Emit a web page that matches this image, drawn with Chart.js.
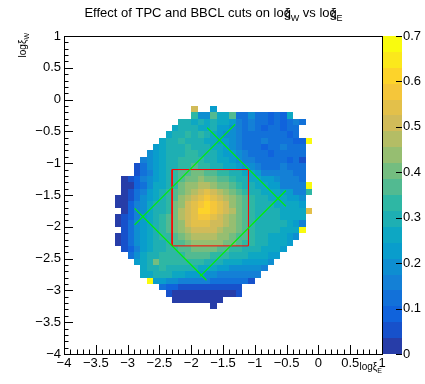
<!DOCTYPE html>
<html>
<head>
<meta charset="utf-8">
<script src="https://cdn.jsdelivr.net/npm/chart.js@4.4.0/dist/chart.umd.min.js"></script>
<style>
  html, body { margin: 0; padding: 0; background: #fff; }
  canvas { display: block; }
</style>
</head>
<body>
<canvas id="th2" width="425" height="384"></canvas>
<script>
// TH2 ratio map (logxi_E on x, logxi_W on y), bins of 0.1 x 0.1
const binSize = 0.1;
const zMin = 0;
const zMax = 0.7;
const nLevels = 20;

// one row per y bin: lower y edge, lower x edge of first filled bin,
// then one char per bin = palette level (0-9, a-j, step 0.035), '.' = empty.
// spaces are only there to make the rows readable
const rowY = [
  -0.2, -0.3, -0.4, -0.5, -0.6, -0.7, -0.8, -0.9, -1.0, -1.1, -1.2, -1.3, -1.4, -1.5, -1.6, -1.7,
  -1.8, -1.9, -2.0, -2.1, -2.2, -2.3, -2.4, -2.5, -2.6, -2.7, -2.8, -2.9, -3.0, -3.1, -3.2, -3.3
];
const rowX = [
  -2.0, -2.0, -2.2, -2.3, -2.4, -2.5, -2.6, -2.7, -2.8, -2.9, -2.9, -3.1, -3.1, -3.1, -3.2, -3.2,
  -3.1, -3.2, -3.2, -3.1, -3.2, -3.2, -3.1, -3.0, -2.9, -2.8, -2.8, -2.7, -2.5, -2.4, -2.3, -1.7
];
const rowCodes = [
  "e..6",
  "955a7 7a335 33232 7",
  "88787 87764 34332 32343",
  "78887 78665 43432 33233",
  "78898 98765 54333 33332 3",
  "78898 88776 65433 34333 322j",
  "67888 98887 76543 33233 4333",
  "56788 89988 87665 43332 33333",
  "45678 89999 88776 54433 33323 1",
  "13567 8899a 99887 76554 33343 33",
  "13467 89aab baa99 88776 44444 33",
  "01245 6789a bbcbb aa988 77665 4443",
  "00235 7789b ccddc bba98 87766 4444j",
  "01346 789ab cdefe dcba9 88777 66449",
  "00135 6789a cdefg fedcb a9887 77665",
  "00245 7889b cefgh gfecb a9888 77776",
  "02457 889bd efhhg fedba 98888 7777f",
  "01246 789ab defgg fedcb a9888 87777",
  "01356 789ab cefff eedcb a9888 88764",
  "13567 89abc deeee dccba 98888 777j",
  "01356 7899a bcddd dccba a9887 7765",
  "01356 7889a abccc ccbba 99887 776",
  "12467 8899a abbbb aa998 88777 6",
  "35788 9999a aaa99 98887 7766",
  "678b9 99999 98887 77666 65",
  "78898 88887 77665 55554",
  "77888 77666 55444 4444",
  "j6655 44444 33333 31",
  "32211 11111 111",
  "10000 00000 01",
  "00000 000",
  "0"
];

// cut lines drawn on top (data coordinates)
const cutLines = [
  [[-2.89, -1.97], [-1.31, -0.39]],
  [[-2.89, -1.71], [-1.76, -2.84]],
  [[-1.86, -2.78], [-0.51, -1.43]],
  [[-1.75, -0.44], [-0.51, -1.68]]
];
const boxCorners = [[-2.3, -2.3], [-1.1, -2.3], [-1.1, -1.1], [-2.3, -1.1], [-2.3, -2.3]];

// kBird palette
const birdStops = [0, 0.125, 0.25, 0.375, 0.5, 0.625, 0.75, 0.875, 1];
const birdR = [0.2082, 0.0592, 0.0780, 0.0232, 0.1802, 0.5301, 0.8186, 0.9956, 0.9764];
const birdG = [0.1664, 0.3599, 0.5041, 0.6419, 0.7178, 0.7492, 0.7328, 0.7862, 0.9832];
const birdB = [0.5293, 0.8684, 0.8385, 0.7914, 0.6425, 0.4662, 0.3499, 0.1968, 0.0539];

function birdColor(t) {
  let s = 0;
  while (s < birdStops.length - 2 && t > birdStops[s + 1]) s++;
  const f = (t - birdStops[s]) / (birdStops[s + 1] - birdStops[s]);
  const c = (arr) => Math.round(255 * (arr[s] + f * (arr[s + 1] - arr[s])));
  return `rgb(${c(birdR)},${c(birdG)},${c(birdB)})`;
}

function levelColor(k) {
  const idx = Math.min(254, Math.floor((k + 0.99) * 255 / nLevels));
  return birdColor(idx / 254);
}

const cells = [];
rowCodes.forEach((codes, r) => {
  codes.replace(/ /g, "").split("").forEach((ch, k) => {
    if (ch === ".") return;
    const level = parseInt(ch, 36);
    cells.push({
      x: rowX[r] + k * binSize,
      y: rowY[r],
      v: zMin + (level + 0.5) * (zMax - zMin) / nLevels,
    });
  });
});

const FONT = "'Liberation Sans', Arial, Helvetica, sans-serif";
const fmt = (v) => (Math.round(v * 10) / 10).toString().replace("-", "\u2212");

const whiteBg = {
  id: "whiteBg",
  beforeDraw: (chart) => {
    const { ctx } = chart;
    ctx.save();
    ctx.fillStyle = "#fff";
    ctx.fillRect(0, 0, chart.width, chart.height);
    ctx.restore();
  },
};

// the colz cells
const cellsPlugin = {
  id: "cells",
  beforeDatasetsDraw: (chart) => {
    const { ctx, scales: { x, y } } = chart;
    const dz = (zMax - zMin) / nLevels;
    ctx.save();
    cells.forEach((c) => {
      const k = Math.min(nLevels - 1, Math.floor((c.v - zMin) / dz));
      const x0 = Math.round(x.getPixelForValue(c.x));
      const x1 = Math.round(x.getPixelForValue(c.x + binSize));
      const y0 = Math.round(y.getPixelForValue(c.y + binSize));
      const y1 = Math.round(y.getPixelForValue(c.y));
      ctx.fillStyle = levelColor(k);
      ctx.fillRect(x0, y0, x1 - x0, y1 - y0);
    });
    ctx.restore();
  },
};

function drawSub(ctx, x, y, parts, size) {
  // parts: [text, kind, back] kind: 'n' normal, 's' subscript; back = shift left
  let cx = x;
  parts.forEach(([t, kind, back]) => {
    if (kind === "s") {
      ctx.font = `${Math.round(size * 0.7)}px ${FONT}`;
      ctx.fillText(t, cx, y + size * 0.3);
      cx += ctx.measureText(t).width;
    } else {
      ctx.font = `${size}px ${FONT}`;
      const w = ctx.measureText(t).width;
      ctx.fillText(t, cx - (back || 0), y);
      cx += w - (back || 0);
    }
  });
  return cx - x;
}

// frame, ROOT style inner ticks, palette and titles
const decorPlugin = {
  id: "decor",
  afterDatasetsDraw: (chart) => {
    const { ctx, chartArea: a, scales: { x, y, z } } = chart;
    ctx.save();

    // palette
    const palLeft = a.right + 1;
    const palWidth = 19;
    for (let k = 0; k < nLevels; k++) {
      const t = Math.round(z.getPixelForValue(zMin + (k + 1) * (zMax - zMin) / nLevels));
      const b = Math.round(z.getPixelForValue(zMin + k * (zMax - zMin) / nLevels));
      ctx.fillStyle = levelColor(k);
      ctx.fillRect(palLeft, t, palWidth, b - t);
    }
    ctx.strokeStyle = "#000";
    ctx.lineWidth = 1;
    ctx.beginPath();
    z.ticks.forEach((tk) => {
      const py = Math.round(z.getPixelForValue(tk.value)) + 0.5;
      ctx.moveTo(palLeft + palWidth, py);
      ctx.lineTo(palLeft + palWidth - 6, py);
    });
    ctx.stroke();

    // frame
    ctx.strokeRect(Math.round(a.left) + 0.5, Math.round(a.top) + 0.5,
      Math.round(a.right - a.left), Math.round(a.bottom - a.top));

    // ticks
    ctx.beginPath();
    for (let k = 0; k <= 50; k++) {
      const v = x.min + k * 0.1;
      const len = k % 5 === 0 ? 9 : 4.5;
      const px = Math.round(x.getPixelForValue(v)) + 0.5;
      ctx.moveTo(px, a.bottom);
      ctx.lineTo(px, a.bottom - len);
      const vy = y.min + k * 0.1;
      const py = Math.round(y.getPixelForValue(vy)) + 0.5;
      ctx.moveTo(a.left, py);
      ctx.lineTo(a.left + len, py);
    }
    ctx.stroke();

    // title
    ctx.fillStyle = "#000";
    ctx.textBaseline = "alphabetic";
    ctx.textAlign = "left";
    const titleParts = [
      ["Effect of TPC and BBCL cuts on log", "n"],
      ["\u03be", "n", 6],
      ["W", "s"],
      [" vs log", "n"],
      ["\u03be", "n", 6],
      ["E", "s"],
    ];
    ctx.globalAlpha = 0;
    const tw = drawSub(ctx, 0, -50, titleParts, 13);
    ctx.globalAlpha = 1;
    drawSub(ctx, chart.width / 2 - tw / 2 + 1, 17, titleParts, 13);

    // x axis title, right aligned at the frame edge
    const xParts = [["log", "n"], ["\u03be", "n"], ["E", "s"]];
    ctx.globalAlpha = 0;
    const xw = drawSub(ctx, 0, -50, xParts, 10);
    ctx.globalAlpha = 1;
    drawSub(ctx, a.right - xw, 370, xParts, 10);

    // y axis title, rotated, ending at the top of the frame
    ctx.translate(26, a.top - 3);
    ctx.rotate(-Math.PI / 2);
    const yParts = [["log", "n"], ["\u03be", "n"], ["W", "s"]];
    ctx.globalAlpha = 0;
    const yw = drawSub(ctx, 0, -50, yParts, 10);
    ctx.globalAlpha = 1;
    drawSub(ctx, -yw, 0, yParts, 10);

    ctx.restore();
  },
};

const lineSets = cutLines.map((seg) => ({
  data: seg.map(([px, py]) => ({ x: px, y: py })),
  showLine: true,
  borderColor: "#00f000",
  borderWidth: 1.2,
  pointRadius: 0,
  fill: false,
  tension: 0,
}));
lineSets.push({
  data: boxCorners.map(([px, py]) => ({ x: px, y: py })),
  showLine: true,
  borderColor: "#ff0000",
  borderWidth: 1,
  pointRadius: 0,
  fill: false,
  tension: 0,
});

const tickFont = { family: FONT, size: 13 };

new Chart(document.getElementById("th2"), {
  type: "scatter",
  data: { datasets: lineSets },
  plugins: [whiteBg, cellsPlugin, decorPlugin],
  options: {
    responsive: false,
    devicePixelRatio: 1,
    animation: false,
    layout: { padding: { top: 36, left: 0, right: 0, bottom: 0 } },
    plugins: { legend: { display: false }, tooltip: { enabled: false }, title: { display: false } },
    scales: {
      x: {
        type: "linear",
        position: "bottom",
        min: -4,
        max: 1,
        grid: { display: false, drawTicks: false },
        border: { display: false },
        ticks: { stepSize: 0.5, autoSkip: false, maxRotation: 0, padding: 2, color: "#000", font: tickFont, callback: fmt },
        afterFit: (s) => { s.height = 30; },
      },
      y: {
        type: "linear",
        position: "left",
        min: -4,
        max: 1,
        grid: { display: false, drawTicks: false },
        border: { display: false },
        ticks: { stepSize: 0.5, autoSkip: false, padding: 3, color: "#000", font: tickFont, callback: fmt },
        afterFit: (s) => { s.width = 64; },
      },
      z: {
        axis: "y",
        type: "linear",
        position: "right",
        min: zMin,
        max: zMax,
        grid: { display: false, drawTicks: false },
        border: { display: false },
        ticks: { stepSize: 0.1, autoSkip: false, padding: 21, color: "#000", font: tickFont,
          callback: (v) => (v === 0 ? "0" : (Math.round(v * 10) / 10).toString()) },
        afterFit: (s) => { s.width = 43; },
      },
    },
  },
});
</script>
</body>
</html>
